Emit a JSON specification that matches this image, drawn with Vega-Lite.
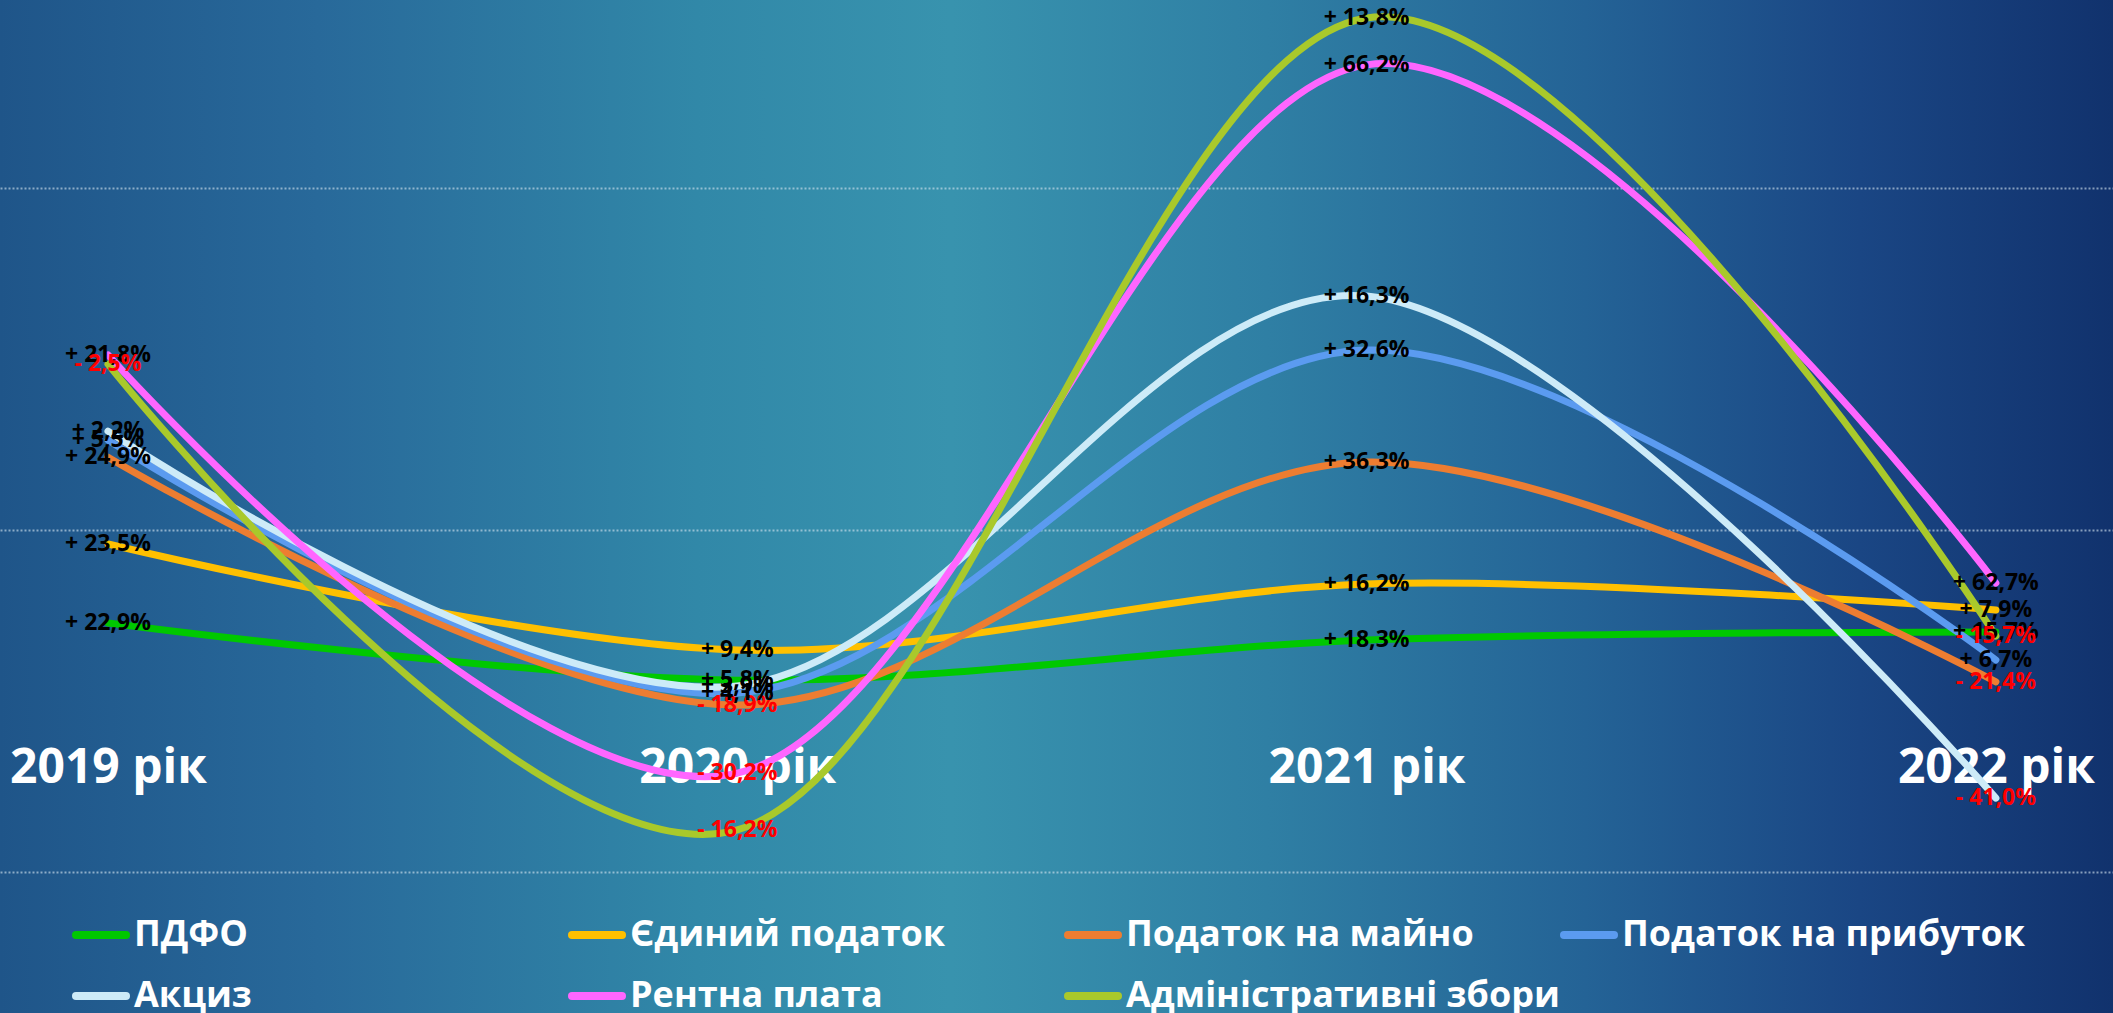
{
  "$schema": "https://vega.github.io/schema/vega-lite/v6.json",
  "width": 2113,
  "height": 1013,
  "autosize": {"type": "fit", "contains": "padding"},
  "padding": 0,
  "background": "#1f5589",
  "config": {
    "view": {
      "stroke": null,
      "fill": {
        "gradient": "linear", "x1": 0, "y1": 0, "x2": 1, "y2": 0,
        "stops": [
          {"offset": 0, "color": "#1f5589"},
          {"offset": 0.15, "color": "#28699a"},
          {"offset": 0.33, "color": "#3188a8"},
          {"offset": 0.45, "color": "#3893ae"},
          {"offset": 0.6, "color": "#2f7fa4"},
          {"offset": 0.75, "color": "#246396"},
          {"offset": 0.88, "color": "#1a4684"},
          {"offset": 1, "color": "#11326d"}
        ]
      }
    },
    "legend": {
      "orient": "none",
      "direction": "horizontal",
      "legendX": 72,
      "legendY": 906,
      "columns": 4,
      "gridAlign": "all",
      "columnPadding": -22,
      "rowPadding": 14,
      "symbolType": "stroke",
      "symbolSize": 2500,
      "symbolStrokeWidth": 8,
      "labelFont": "Open Sans",
      "labelFontSize": 36,
      "labelFontWeight": "bold",
      "labelColor": "#ffffff",
      "labelLimit": 700,
      "labelOffset": 4,
      "title": null
    }
  },
  "data": {
    "values": [
      {"year": 2019, "tax": "ПДФО", "v": 72.8, "lab": "+ 22,9%"},
      {"year": 2020, "tax": "ПДФО", "v": 56.1, "lab": "+ 5,8%"},
      {"year": 2021, "tax": "ПДФО", "v": 67.8, "lab": "+ 18,3%"},
      {"year": 2022, "tax": "ПДФО", "v": 70.2, "lab": "+ 15,7%"},
      {"year": 2019, "tax": "Єдиний податок", "v": 95.9, "lab": "+ 23,5%"},
      {"year": 2020, "tax": "Єдиний податок", "v": 64.9, "lab": "+ 9,4%"},
      {"year": 2021, "tax": "Єдиний податок", "v": 84.2, "lab": "+ 16,2%"},
      {"year": 2022, "tax": "Єдиний податок", "v": 76.6, "lab": "+ 7,9%"},
      {"year": 2019, "tax": "Податок на майно", "v": 121.3, "lab": "+ 24,9%"},
      {"year": 2020, "tax": "Податок на майно", "v": 48.8, "lab": "- 18,9%"},
      {"year": 2021, "tax": "Податок на майно", "v": 119.9, "lab": "+ 36,3%"},
      {"year": 2022, "tax": "Податок на майно", "v": 55.6, "lab": "- 21,4%"},
      {"year": 2019, "tax": "Податок на прибуток", "v": 126.3, "lab": "+ 5,5%"},
      {"year": 2020, "tax": "Податок на прибуток", "v": 52.3, "lab": "+ 4,1%"},
      {"year": 2021, "tax": "Податок на прибуток", "v": 152.6, "lab": "+ 32,6%"},
      {"year": 2022, "tax": "Податок на прибуток", "v": 62.0, "lab": "+ 6,7%"},
      {"year": 2019, "tax": "Акциз", "v": 128.9, "lab": "+ 2,2%"},
      {"year": 2020, "tax": "Акциз", "v": 54.4, "lab": "+ 3,9%"},
      {"year": 2021, "tax": "Акциз", "v": 168.4, "lab": "+ 16,3%"},
      {"year": 2022, "tax": "Акциз", "v": 21.6, "lab": "- 41,0%"},
      {"year": 2019, "tax": "Рентна плата", "v": 151.2, "lab": "+ 21,8%"},
      {"year": 2020, "tax": "Рентна плата", "v": 28.9, "lab": "- 30,2%"},
      {"year": 2021, "tax": "Рентна плата", "v": 236.0, "lab": "+ 66,2%"},
      {"year": 2022, "tax": "Рентна плата", "v": 84.5, "lab": "+ 62,7%"},
      {"year": 2019, "tax": "Адміністративні збори", "v": 148.5, "lab": "- 2,5%"},
      {"year": 2020, "tax": "Адміністративні збори", "v": 12.3, "lab": "- 16,2%"},
      {"year": 2021, "tax": "Адміністративні збори", "v": 249.7, "lab": "+ 13,8%"},
      {"year": 2022, "tax": "Адміністративні збори", "v": 69.0, "lab": "- 15,7%"}
    ]
  },
  "encoding": {
    "x": {
      "field": "year",
      "type": "quantitative",
      "scale": {"domain": [2018.8284, 2022.1861], "nice": false, "zero": false},
      "axis": {
        "values": [2019, 2020, 2021, 2022],
        "labelExpr": "datum.value + ' рік'",
        "orient": "bottom",
        "offset": -245,
        "ticks": false,
        "domain": false,
        "grid": false,
        "labelPadding": 0,
        "labelBaseline": "middle",
        "labelFont": "Open Sans",
        "labelFontSize": 48,
        "labelFontWeight": "bold",
        "labelColor": "#ffffff",
        "labelLimit": 600,
        "labelOverlap": false,
        "labelFlush": false,
        "labelBound": false,
        "title": null
      }
    },
    "y": {
      "field": "v",
      "type": "quantitative",
      "scale": {"domain": [-41.23, 254.97], "nice": false, "zero": false},
      "axis": {
        "values": [0, 100, 200],
        "grid": true,
        "gridColor": "#d6e4f0",
        "gridDash": [2, 2],
        "gridWidth": 2,
        "gridOpacity": 0.6,
        "labels": false,
        "ticks": false,
        "domain": false,
        "title": null
      }
    }
  },
  "layer": [
    {
      "mark": {"type": "line", "interpolate": "cardinal", "strokeWidth": 7, "strokeCap": "round"},
      "encoding": {
        "color": {
          "field": "tax",
          "type": "nominal",
          "scale": {
            "domain": ["ПДФО", "Єдиний податок", "Податок на майно", "Податок на прибуток", "Акциз", "Рентна плата", "Адміністративні збори"],
            "range": ["#00c800", "#ffc000", "#ed7d31", "#5b9bf0", "#cdebf8", "#ff66ff", "#a9c92b"]
          },
          "legend": {
            "encode": {"symbols": {"update": {"strokeCap": {"value": "round"}}}}
          }
        }
      }
    },
    {
      "mark": {"type": "text", "font": "Open Sans", "fontSize": 23, "fontWeight": "bold", "align": "center", "baseline": "middle"},
      "encoding": {
        "text": {"field": "lab"},
        "color": {
          "condition": {"test": "indexof(datum.lab, '-') === 0", "value": "#ff0000"},
          "value": "#000000"
        }
      }
    }
  ]
}
